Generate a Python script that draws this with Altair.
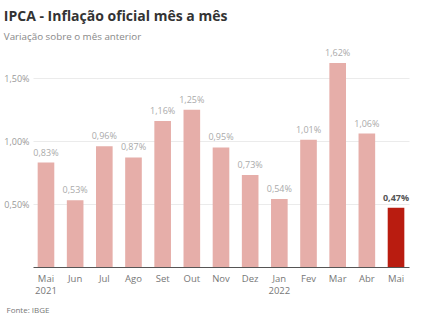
import altair as alt
import pandas as pd

months = ["Mai 2021", "Jun", "Jul", "Ago", "Set", "Out", "Nov", "Dez",
          "Jan 2022", "Fev", "Mar", "Abr", "Mai"]
values = [0.83, 0.53, 0.96, 0.87, 1.16, 1.25, 0.95, 0.73, 0.54, 1.01, 1.62, 1.06, 0.47]
highlight = [False] * 12 + [True]

df = pd.DataFrame({"mes": months, "valor": values, "destaque": highlight})
df["rotulo"] = df["valor"].map(lambda v: f"{v:.2f}".replace(".", ",") + "%")

FONT = "Open Sans"

x = alt.X("mes:N", sort=months,
          scale=alt.Scale(paddingInner=0.43, paddingOuter=0.16),
          axis=alt.Axis(title="Fonte: IBGE", titleX=-27, titleY=39, titleAlign="left",
                        titleAnchor="start", titleFont=FONT, titleFontSize=8,
                        titleFontWeight="normal", titleColor="#777",
                        labelExpr="split(datum.label, ' ')", labelAngle=0,
                        labelFont=FONT, labelFontSize=9.5, labelColor="#777",
                        labelPadding=6, ticks=False, domainColor="#555",
                        domainWidth=1, labelLineHeight=12))
y = alt.Y("valor:Q", scale=alt.Scale(domain=[0, 1.7], nice=False),
          axis=alt.Axis(title=None, values=[0.5, 1.0, 1.5],
                        labelExpr="replace(format(datum.value, '.2f'), '.', ',') + '%'",
                        labelFont=FONT, labelFontSize=9, labelColor="#999",
                        labelPadding=4, ticks=False, domain=False,
                        gridColor="#ebebeb", gridWidth=1))

base = alt.Chart(df).encode(x=x, y=y)

bars = base.mark_bar().encode(
    color=alt.Color("destaque:N", scale=alt.Scale(domain=[False, True],
                                                   range=["#e6aea9", "#b91c10"]),
                    legend=None)
)

labels_normal = base.transform_filter("!datum.destaque").mark_text(
    baseline="bottom", dy=-5, font=FONT, fontSize=9, color="#aaaaaa"
).encode(text="rotulo:N")

labels_hl = base.transform_filter("datum.destaque").mark_text(
    baseline="bottom", dy=-5, font=FONT, fontSize=9, fontWeight="bold", color="#555555"
).encode(text="rotulo:N")

chart = alt.layer(bars, labels_normal, labels_hl).properties(
    width=376, height=214,
    autosize=alt.AutoSizeParams(type="none"),
    padding={"left": 33, "top": 53, "right": 23, "bottom": 55},
    title=alt.TitleParams(
        text="IPCA - Inflação oficial mês a mês",
        subtitle="Variação sobre o mês anterior",
        anchor="start", dx=0, offset=7,
        font=FONT, fontSize=14, fontWeight="bold", color="#333333",
        subtitleFont=FONT, subtitleFontSize=9.8, subtitleColor="#888888",
        subtitlePadding=8,
    ),
).configure_view(stroke=None)

chart.save("out.html", embed_options={"renderer": "svg", "actions": False})
